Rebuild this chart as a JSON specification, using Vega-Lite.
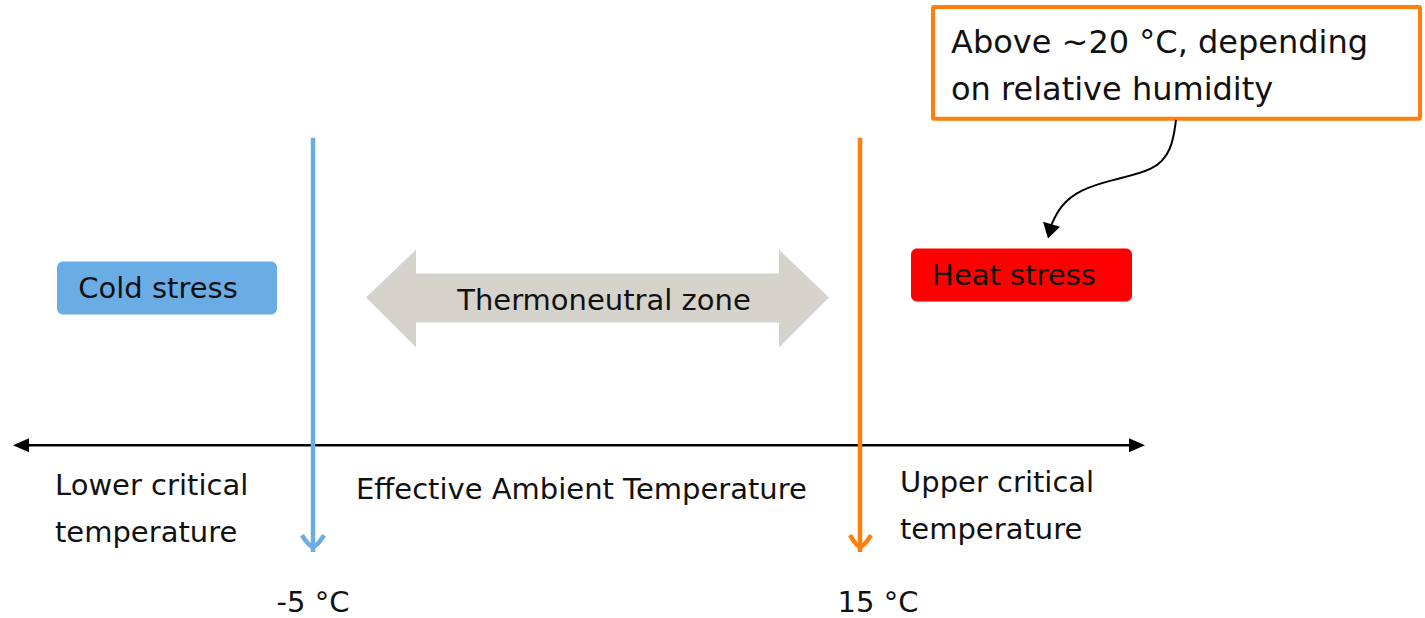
{
  "$schema": "https://vega.github.io/schema/vega-lite/v6.json",
  "width": 1425,
  "height": 618,
  "autosize": {"type": "fit", "contains": "padding"},
  "padding": 0,
  "background": "white",
  "view": {"stroke": null},
  "config": {"font": "DejaVu Sans"},
  "datasets": {
    "boxes": [
      {"x1": 57, "x2": 277, "y1": 262, "y2": 315, "col": "#6aade4"},
      {"x1": 911, "x2": 1132, "y1": 249, "y2": 302, "col": "#ff0000"}
    ],
    "note": [{"x1": 933, "x2": 1420, "y1": 7, "y2": 119}],
    "polys": [
      {"id": "tnz", "o": 1, "x": 366, "y": 298, "col": "#d5d3cb"},
      {"id": "tnz", "o": 2, "x": 416, "y": 250, "col": "#d5d3cb"},
      {"id": "tnz", "o": 3, "x": 416, "y": 274, "col": "#d5d3cb"},
      {"id": "tnz", "o": 4, "x": 779, "y": 274, "col": "#d5d3cb"},
      {"id": "tnz", "o": 5, "x": 779, "y": 250, "col": "#d5d3cb"},
      {"id": "tnz", "o": 6, "x": 829, "y": 298, "col": "#d5d3cb"},
      {"id": "tnz", "o": 7, "x": 779, "y": 348, "col": "#d5d3cb"},
      {"id": "tnz", "o": 8, "x": 779, "y": 323, "col": "#d5d3cb"},
      {"id": "tnz", "o": 9, "x": 416, "y": 323, "col": "#d5d3cb"},
      {"id": "tnz", "o": 10, "x": 416, "y": 348, "col": "#d5d3cb"},
      {"id": "la", "o": 1, "x": 13, "y": 446, "col": "#000000"},
      {"id": "la", "o": 2, "x": 29, "y": 439, "col": "#000000"},
      {"id": "la", "o": 3, "x": 29, "y": 453, "col": "#000000"},
      {"id": "ra", "o": 1, "x": 1145, "y": 446, "col": "#000000"},
      {"id": "ra", "o": 2, "x": 1129, "y": 439, "col": "#000000"},
      {"id": "ra", "o": 3, "x": 1129, "y": 453, "col": "#000000"},
      {"id": "ca", "o": 1, "x": 1048, "y": 239, "col": "#000000"},
      {"id": "ca", "o": 2, "x": 1043, "y": 222, "col": "#000000"},
      {"id": "ca", "o": 3, "x": 1060, "y": 227, "col": "#000000"}
    ],
    "lines": [
      {"id": "axis", "o": 1, "x": 20, "y": 446, "col": "#000000", "w": 2.5},
      {"id": "axis", "o": 2, "x": 1135, "y": 446, "col": "#000000", "w": 2.5},
      {"id": "blue", "o": 1, "x": 313, "y": 138, "col": "#6aade4", "w": 4.5},
      {"id": "blue", "o": 2, "x": 313, "y": 553, "col": "#6aade4", "w": 4.5},
      {"id": "bluev", "o": 1, "x": 302, "y": 536, "col": "#6aade4", "w": 4.5},
      {"id": "bluev", "o": 2, "x": 313, "y": 553, "col": "#6aade4", "w": 4.5},
      {"id": "bluev", "o": 3, "x": 324, "y": 536, "col": "#6aade4", "w": 4.5},
      {"id": "orange", "o": 1, "x": 860, "y": 138, "col": "#ff7f0e", "w": 4.5},
      {"id": "orange", "o": 2, "x": 860, "y": 553, "col": "#ff7f0e", "w": 4.5},
      {"id": "orangev", "o": 1, "x": 850, "y": 536, "col": "#ff7f0e", "w": 4.5},
      {"id": "orangev", "o": 2, "x": 860, "y": 553, "col": "#ff7f0e", "w": 4.5},
      {"id": "orangev", "o": 3, "x": 871, "y": 536, "col": "#ff7f0e", "w": 4.5},
      {"id": "curve", "o": 1, "x": 1176, "y": 120, "col": "#000000", "w": 2},
      {"id": "curve", "o": 2, "x": 1172, "y": 150, "col": "#000000", "w": 2},
      {"id": "curve", "o": 3, "x": 1155, "y": 171, "col": "#000000", "w": 2},
      {"id": "curve", "o": 4, "x": 1112, "y": 180, "col": "#000000", "w": 2},
      {"id": "curve", "o": 5, "x": 1080, "y": 190, "col": "#000000", "w": 2},
      {"id": "curve", "o": 6, "x": 1060, "y": 206, "col": "#000000", "w": 2},
      {"id": "curve", "o": 7, "x": 1051, "y": 226, "col": "#000000", "w": 2}
    ],
    "ctext": [
      {"t": "Cold stress", "x": 158, "y": 289},
      {"t": "Heat stress", "x": 1014, "y": 276},
      {"t": "Thermoneutral zone", "x": 604, "y": 301},
      {"t": "-5 °C", "x": 313, "y": 604},
      {"t": "15 °C", "x": 878, "y": 604}
    ],
    "ltext": [
      {"t": "Lower critical", "x": 55, "y": 487},
      {"t": "temperature", "x": 55, "y": 534},
      {"t": "Effective Ambient Temperature", "x": 356, "y": 491},
      {"t": "Upper critical", "x": 900, "y": 484},
      {"t": "temperature", "x": 900, "y": 531}
    ],
    "ntext": [
      {"t": "Above ~20 °C, depending", "x": 951, "y": 43},
      {"t": "on relative humidity", "x": 951, "y": 90}
    ]
  },
  "layer": [
    {
      "data": {"name": "boxes"},
      "mark": {"type": "rect", "cornerRadius": 6},
      "encoding": {
        "x": {"field": "x1", "type": "quantitative", "scale": {"domain": [0, 1425], "nice": false, "zero": false}, "axis": null},
        "x2": {"field": "x2"},
        "y": {"field": "y1", "type": "quantitative", "scale": {"domain": [0, 618], "reverse": true, "nice": false, "zero": false}, "axis": null},
        "y2": {"field": "y2"},
        "fill": {"field": "col", "type": "nominal", "scale": null}
      }
    },
    {
      "data": {"name": "note"},
      "mark": {"type": "rect", "fill": "white", "stroke": "#ff7f0e", "strokeWidth": 4, "cornerRadius": 1},
      "encoding": {
        "x": {"field": "x1", "type": "quantitative"},
        "x2": {"field": "x2"},
        "y": {"field": "y1", "type": "quantitative"},
        "y2": {"field": "y2"}
      }
    },
    {
      "data": {"name": "lines"},
      "mark": {"type": "line", "interpolate": "basis", "strokeCap": "butt"},
      "encoding": {
        "x": {"field": "x", "type": "quantitative"},
        "y": {"field": "y", "type": "quantitative"},
        "detail": {"field": "id"},
        "order": {"field": "o", "type": "quantitative"},
        "color": {"field": "col", "type": "nominal", "scale": null},
        "strokeWidth": {"field": "w", "type": "quantitative", "scale": null}
      }
    },
    {
      "data": {"name": "polys"},
      "mark": {"type": "line", "filled": true, "strokeWidth": 0},
      "encoding": {
        "x": {"field": "x", "type": "quantitative"},
        "y": {"field": "y", "type": "quantitative"},
        "detail": {"field": "id"},
        "order": {"field": "o", "type": "quantitative"},
        "fill": {"field": "col", "type": "nominal", "scale": null}
      }
    },
    {
      "data": {"name": "ctext"},
      "mark": {"type": "text", "align": "center", "baseline": "middle", "fontSize": 29, "color": "#111111"},
      "encoding": {
        "x": {"field": "x", "type": "quantitative"},
        "y": {"field": "y", "type": "quantitative"},
        "text": {"field": "t"}
      }
    },
    {
      "data": {"name": "ltext"},
      "mark": {"type": "text", "align": "left", "baseline": "middle", "fontSize": 29, "color": "#111111"},
      "encoding": {
        "x": {"field": "x", "type": "quantitative"},
        "y": {"field": "y", "type": "quantitative"},
        "text": {"field": "t"}
      }
    },
    {
      "data": {"name": "ntext"},
      "mark": {"type": "text", "align": "left", "baseline": "middle", "fontSize": 32, "color": "#111111"},
      "encoding": {
        "x": {"field": "x", "type": "quantitative"},
        "y": {"field": "y", "type": "quantitative"},
        "text": {"field": "t"}
      }
    }
  ]
}
